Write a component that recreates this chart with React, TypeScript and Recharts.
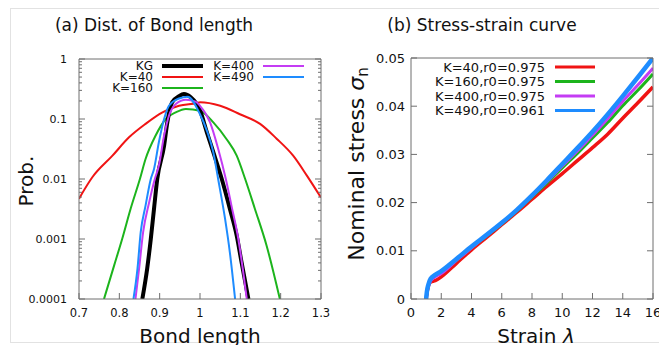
import { Line, LineChart, XAxis, YAxis } from "recharts";

// (a) bond length distribution, one array per potential
const kgBond = [
  { b: 0.857, p: 0.0001 },
  { b: 0.869, p: 0.00032 },
  { b: 0.878, p: 0.001 },
  { b: 0.886, p: 0.0032 },
  { b: 0.894, p: 0.01 },
  { b: 0.911, p: 0.036 },
  { b: 0.919, p: 0.088 },
  { b: 0.931, p: 0.19 },
  { b: 0.948, p: 0.24 },
  { b: 0.96, p: 0.26 },
  { b: 0.977, p: 0.23 },
  { b: 1.0, p: 0.14 },
  { b: 1.017, p: 0.06 },
  { b: 1.033, p: 0.028 },
  { b: 1.054, p: 0.01 },
  { b: 1.074, p: 0.0032 },
  { b: 1.091, p: 0.00114 },
  { b: 1.103, p: 0.00041 },
  { b: 1.12, p: 0.0001 },
];

const k40Bond = [
  { b: 0.7, p: 0.0047 },
  { b: 0.733, p: 0.0107 },
  { b: 0.783, p: 0.0245 },
  { b: 0.824, p: 0.0495 },
  { b: 0.865, p: 0.083 },
  { b: 0.907, p: 0.129 },
  { b: 0.948, p: 0.166 },
  { b: 0.993, p: 0.185 },
  { b: 1.0, p: 0.19 },
  { b: 1.05, p: 0.166 },
  { b: 1.099, p: 0.12 },
  { b: 1.149, p: 0.083 },
  { b: 1.19, p: 0.047 },
  { b: 1.231, p: 0.0245 },
  { b: 1.265, p: 0.0114 },
  { b: 1.3, p: 0.0049 },
];

const k160Bond = [
  { b: 0.762, p: 0.0001 },
  { b: 0.787, p: 0.00036 },
  { b: 0.807, p: 0.001 },
  { b: 0.828, p: 0.0032 },
  { b: 0.851, p: 0.01 },
  { b: 0.865, p: 0.0215 },
  { b: 0.89, p: 0.053 },
  { b: 0.915, p: 0.1 },
  { b: 0.94, p: 0.129 },
  { b: 0.965, p: 0.147 },
  { b: 1.0, p: 0.137 },
  { b: 1.033, p: 0.088 },
  { b: 1.066, p: 0.046 },
  { b: 1.091, p: 0.0245 },
  { b: 1.112, p: 0.01 },
  { b: 1.136, p: 0.0032 },
  { b: 1.165, p: 0.00078 },
  { b: 1.198, p: 0.0001 },
];

const k400Bond = [
  { b: 0.84, p: 0.0001 },
  { b: 0.849, p: 0.00032 },
  { b: 0.859, p: 0.0013 },
  { b: 0.874, p: 0.0041 },
  { b: 0.888, p: 0.01 },
  { b: 0.898, p: 0.0166 },
  { b: 0.911, p: 0.053 },
  { b: 0.923, p: 0.113 },
  { b: 0.94, p: 0.178 },
  { b: 0.965, p: 0.21 },
  { b: 0.989, p: 0.195 },
  { b: 1.0, p: 0.166 },
  { b: 1.025, p: 0.088 },
  { b: 1.045, p: 0.032 },
  { b: 1.064, p: 0.01 },
  { b: 1.078, p: 0.0036 },
  { b: 1.095, p: 0.001 },
  { b: 1.106, p: 0.00032 },
  { b: 1.116, p: 0.0001 },
];

const k490Bond = [
  { b: 0.835, p: 0.0001 },
  { b: 0.845, p: 0.00032 },
  { b: 0.853, p: 0.0013 },
  { b: 0.865, p: 0.0036 },
  { b: 0.878, p: 0.01 },
  { b: 0.886, p: 0.0147 },
  { b: 0.898, p: 0.041 },
  { b: 0.911, p: 0.1 },
  { b: 0.923, p: 0.166 },
  { b: 0.948, p: 0.22 },
  { b: 0.969, p: 0.235 },
  { b: 1.0, p: 0.12 },
  { b: 1.017, p: 0.064 },
  { b: 1.033, p: 0.028 },
  { b: 1.045, p: 0.01 },
  { b: 1.062, p: 0.0022 },
  { b: 1.074, p: 0.0006 },
  { b: 1.087, p: 0.0001 },
];

// (b) stress-strain curves
const k40Stress = [
  { s: 1.0, n: 0 },
  { s: 1.1, n: 0.002 },
  { s: 1.3, n: 0.0035 },
  { s: 1.6, n: 0.0038 },
  { s: 2, n: 0.0046 },
  { s: 3, n: 0.0074 },
  { s: 4, n: 0.0102 },
  { s: 5, n: 0.0128 },
  { s: 6, n: 0.0154 },
  { s: 7, n: 0.018 },
  { s: 8, n: 0.0207 },
  { s: 9, n: 0.0234 },
  { s: 10, n: 0.026 },
  { s: 11, n: 0.0287 },
  { s: 12, n: 0.0314 },
  { s: 13, n: 0.0342 },
  { s: 14, n: 0.0375 },
  { s: 15, n: 0.0407 },
  { s: 16, n: 0.044 },
];

const k160Stress = [
  { s: 1.0, n: 0 },
  { s: 1.1, n: 0.002 },
  { s: 1.3, n: 0.004 },
  { s: 1.6, n: 0.0048 },
  { s: 2, n: 0.0054 },
  { s: 3, n: 0.008 },
  { s: 4, n: 0.0106 },
  { s: 5, n: 0.0131 },
  { s: 6, n: 0.0156 },
  { s: 7, n: 0.0183 },
  { s: 8, n: 0.0212 },
  { s: 9, n: 0.0241 },
  { s: 10, n: 0.0272 },
  { s: 11, n: 0.0302 },
  { s: 12, n: 0.0334 },
  { s: 13, n: 0.0366 },
  { s: 14, n: 0.0401 },
  { s: 15, n: 0.0433 },
  { s: 16, n: 0.0467 },
];

const k400Stress = [
  { s: 1.0, n: 0 },
  { s: 1.1, n: 0.002 },
  { s: 1.3, n: 0.0038 },
  { s: 1.6, n: 0.0046 },
  { s: 2, n: 0.0053 },
  { s: 3, n: 0.008 },
  { s: 4, n: 0.0106 },
  { s: 5, n: 0.0132 },
  { s: 6, n: 0.0157 },
  { s: 7, n: 0.0185 },
  { s: 8, n: 0.0214 },
  { s: 9, n: 0.0244 },
  { s: 10, n: 0.0276 },
  { s: 11, n: 0.0307 },
  { s: 12, n: 0.034 },
  { s: 13, n: 0.0374 },
  { s: 14, n: 0.041 },
  { s: 15, n: 0.0444 },
  { s: 16, n: 0.0479 },
];

const k490Stress = [
  { s: 1.0, n: 0 },
  { s: 1.05, n: 0.0015 },
  { s: 1.15, n: 0.003 },
  { s: 1.3, n: 0.0042 },
  { s: 1.6, n: 0.005 },
  { s: 2, n: 0.0058 },
  { s: 3, n: 0.0083 },
  { s: 4, n: 0.0109 },
  { s: 5, n: 0.0133 },
  { s: 6, n: 0.0158 },
  { s: 7, n: 0.0185 },
  { s: 8, n: 0.0215 },
  { s: 9, n: 0.0247 },
  { s: 10, n: 0.028 },
  { s: 11, n: 0.0313 },
  { s: 12, n: 0.0347 },
  { s: 13, n: 0.0383 },
  { s: 14, n: 0.0421 },
  { s: 15, n: 0.046 },
  { s: 16, n: 0.05 },
];

const bondTicks = [0.7, 0.8, 0.9, 1, 1.1, 1.2, 1.3];
const probTicks = [0.0001, 0.001, 0.01, 0.1, 1];
const strainTicks = [0, 2, 4, 6, 8, 10, 12, 14, 16];
const stressTicks = [0, 0.01, 0.02, 0.03, 0.04, 0.05];

const probMinor = probTicks
  .slice(0, -1)
  .flatMap((d) => [2, 3, 4, 5, 6, 7, 8, 9].map((k) => +(d * k).toPrecision(3)));

const colors = {
  kg: "#000000",
  k40: "#f01414",
  k160: "#1cb41c",
  k400: "#c43cf4",
  k490: "#1e8cff",
  frame: "#6e6e6e",
  text: "#111111",
};

const font = "'DejaVu Sans', sans-serif";

type Side = "left" | "right" | "top" | "bottom";

function makeTick(
  side: Side,
  majors: number[],
  fontSize: number,
  gap: number,
  showLabel: boolean,
) {
  return (props: any) => {
    const { x, y, payload } = props;
    const v = payload.value as number;
    const major = majors.some((m) => Math.abs(m - v) < 1e-9);
    const len = major ? 6 : 3;
    let line;
    let label = null;
    if (side === "left") {
      line = <line x1={x} y1={y} x2={x + len} y2={y} />;
      if (showLabel && major)
        label = (
          <text x={x - gap} y={y} dy="0.36em" textAnchor="end">
            {String(v)}
          </text>
        );
    } else if (side === "right") {
      line = <line x1={x} y1={y} x2={x - len} y2={y} />;
    } else if (side === "top") {
      line = <line x1={x} y1={y} x2={x} y2={y + len} />;
    } else {
      line = <line x1={x} y1={y} x2={x} y2={y - len} />;
      if (showLabel && major)
        label = (
          <text x={x} y={y + gap} textAnchor="middle">
            {String(v)}
          </text>
        );
    }
    return (
      <g stroke={colors.frame} fill={colors.text} fontSize={fontSize} fontFamily={font}>
        {line}
        {label && <g stroke="none">{label}</g>}
      </g>
    );
  };
}

const frameLine = { stroke: colors.frame, strokeWidth: 1 };

function BondChart() {
  const allProb = [...probTicks, ...probMinor];
  return (
    <LineChart
      width={336}
      height={345}
      margin={{ top: 58, right: 14, bottom: 26, left: 39 }}
      style={{ overflow: "visible" }}
    >
      <XAxis
        dataKey="b"
        type="number"
        domain={[0.7, 1.3]}
        ticks={bondTicks}
        interval={0}
        height={20}
        tickSize={0}
        tickMargin={0}
        axisLine={frameLine}
        tickLine={false}
        tick={makeTick("bottom", bondTicks, 11.5, 18, true)}
        allowDataOverflow
      />
      <XAxis
        xAxisId="top"
        orientation="top"
        type="number"
        domain={[0.7, 1.3]}
        ticks={bondTicks}
        interval={0}
        height={1}
        tickSize={0}
        tickMargin={0}
        axisLine={frameLine}
        tickLine={false}
        tick={makeTick("top", bondTicks, 11, 0, false)}
        allowDataOverflow
      />
      <YAxis
        type="number"
        scale="log"
        domain={[0.0001, 1]}
        ticks={allProb}
        interval={0}
        width={40}
        tickSize={0}
        tickMargin={0}
        axisLine={frameLine}
        tickLine={false}
        tick={makeTick("left", probTicks, 11, 12, true)}
        allowDataOverflow
      />
      <YAxis
        yAxisId="right"
        orientation="right"
        type="number"
        scale="log"
        domain={[0.0001, 1]}
        ticks={allProb}
        interval={0}
        width={1}
        tickSize={0}
        tickMargin={0}
        axisLine={frameLine}
        tickLine={false}
        tick={makeTick("right", probTicks, 11, 0, false)}
        allowDataOverflow
      />
      <Line data={k40Bond} dataKey="p" type="monotone" stroke={colors.k40} strokeWidth={2} dot={false} isAnimationActive={false} />
      <Line data={k160Bond} dataKey="p" type="monotone" stroke={colors.k160} strokeWidth={2} dot={false} isAnimationActive={false} />
      <Line data={kgBond} dataKey="p" type="monotone" stroke={colors.kg} strokeWidth={4} dot={false} isAnimationActive={false} />
      <Line data={k400Bond} dataKey="p" type="monotone" stroke={colors.k400} strokeWidth={2} dot={false} isAnimationActive={false} />
      <Line data={k490Bond} dataKey="p" type="monotone" stroke={colors.k490} strokeWidth={2} dot={false} isAnimationActive={false} />
    </LineChart>
  );
}

function StressChart() {
  return (
    <LineChart
      width={335}
      height={345}
      margin={{ top: 57, right: 11, bottom: 26, left: 41 }}
      style={{ overflow: "visible" }}
    >
      <XAxis
        dataKey="s"
        type="number"
        domain={[0, 16]}
        ticks={strainTicks}
        interval={0}
        height={20}
        tickSize={0}
        tickMargin={0}
        axisLine={frameLine}
        tickLine={false}
        tick={makeTick("bottom", strainTicks, 13, 18, true)}
        allowDataOverflow
      />
      <XAxis
        xAxisId="top"
        orientation="top"
        type="number"
        domain={[0, 16]}
        ticks={strainTicks}
        interval={0}
        height={1}
        tickSize={0}
        tickMargin={0}
        axisLine={frameLine}
        tickLine={false}
        tick={makeTick("top", strainTicks, 13, 0, false)}
        allowDataOverflow
      />
      <YAxis
        type="number"
        domain={[0, 0.05]}
        ticks={stressTicks}
        interval={0}
        width={40}
        tickSize={0}
        tickMargin={0}
        axisLine={frameLine}
        tickLine={false}
        tick={makeTick("left", stressTicks, 13, 6, true)}
        allowDataOverflow
      />
      <YAxis
        yAxisId="right"
        orientation="right"
        type="number"
        domain={[0, 0.05]}
        ticks={stressTicks}
        interval={0}
        width={1}
        tickSize={0}
        tickMargin={0}
        axisLine={frameLine}
        tickLine={false}
        tick={makeTick("right", stressTicks, 13, 0, false)}
        allowDataOverflow
      />
      <Line data={k40Stress} dataKey="n" type="monotone" stroke={colors.k40} strokeWidth={3.5} dot={false} isAnimationActive={false} />
      <Line data={k160Stress} dataKey="n" type="monotone" stroke={colors.k160} strokeWidth={3} dot={false} isAnimationActive={false} />
      <Line data={k400Stress} dataKey="n" type="monotone" stroke={colors.k400} strokeWidth={3} dot={false} isAnimationActive={false} />
      <Line data={k490Stress} dataKey="n" type="monotone" stroke={colors.k490} strokeWidth={4.5} dot={false} isAnimationActive={false} />
    </LineChart>
  );
}

const bondLegend = [
  { label: "KG", color: colors.kg, width: 4, col: 0, row: 0 },
  { label: "K=40", color: colors.k40, width: 2, col: 0, row: 1 },
  { label: "K=160", color: colors.k160, width: 2, col: 0, row: 2 },
  { label: "K=400", color: colors.k400, width: 2, col: 1, row: 0 },
  { label: "K=490", color: colors.k490, width: 2, col: 1, row: 1 },
];

const stressLegend = [
  { label: "K=40,r0=0.975", color: colors.k40 },
  { label: "K=160,r0=0.975", color: colors.k160 },
  { label: "K=400,r0=0.975", color: colors.k400 },
  { label: "K=490,r0=0.961", color: colors.k490 },
];

function Overlay() {
  return (
    <svg
      width={659}
      height={345}
      style={{ position: "absolute", left: 0, top: 0, pointerEvents: "none" }}
      fontFamily={font}
      fill={colors.text}
    >
      <rect x={10.5} y={8.5} width={660} height={334} fill="none" stroke="#e2e2e2" />
      <text x={154} y={31} fontSize={17} textAnchor="middle">
        (a) Dist. of Bond length
      </text>
      <text x={482} y={31} fontSize={17} textAnchor="middle">
        (b) Stress-strain curve
      </text>
      <text x={200} y={343} fontSize={20} textAnchor="middle">
        Bond length
      </text>
      <text x={536} y={343} fontSize={20} textAnchor="middle">
        Strain <tspan fontStyle="italic">λ</tspan>
      </text>
      <text x={33} y={181} fontSize={20} textAnchor="middle" transform="rotate(-90 33 181)">
        Prob.
      </text>
      <text x={364} y={164} fontSize={22} textAnchor="middle" transform="rotate(-90 364 164)">
        Nominal stress <tspan fontStyle="italic">σ</tspan>
        <tspan fontSize={15} dy={4}>n</tspan>
      </text>

      {bondLegend.map((e) => {
        const textX = e.col === 0 ? 153 : 254;
        const y = 66 + e.row * 11;
        return (
          <g key={e.label}>
            <text x={textX} y={y} dy="0.36em" fontSize={12} textAnchor="end">
              {e.label}
            </text>
            <line x1={textX + 9} x2={textX + 50} y1={y} y2={y} stroke={e.color} strokeWidth={e.width} />
          </g>
        );
      })}

      {stressLegend.map((e, i) => {
        const y = 67 + i * 14.5;
        return (
          <g key={e.label}>
            <text x={545} y={y} dy="0.36em" fontSize={13} textAnchor="end">
              {e.label}
            </text>
            <line x1={555} x2={595} y1={y} y2={y} stroke={e.color} strokeWidth={3} />
          </g>
        );
      })}
    </svg>
  );
}

export default function App() {
  return (
    <div
      style={{
        position: "absolute",
        left: 0,
        top: 0,
        width: 659,
        height: 345,
        overflow: "hidden",
        background: "#ffffff",
      }}
    >
      <div style={{ position: "absolute", left: 0, top: 0 }}>
        <BondChart />
      </div>
      <div style={{ position: "absolute", left: 330, top: 0 }}>
        <StressChart />
      </div>
      <Overlay />
    </div>
  );
}
